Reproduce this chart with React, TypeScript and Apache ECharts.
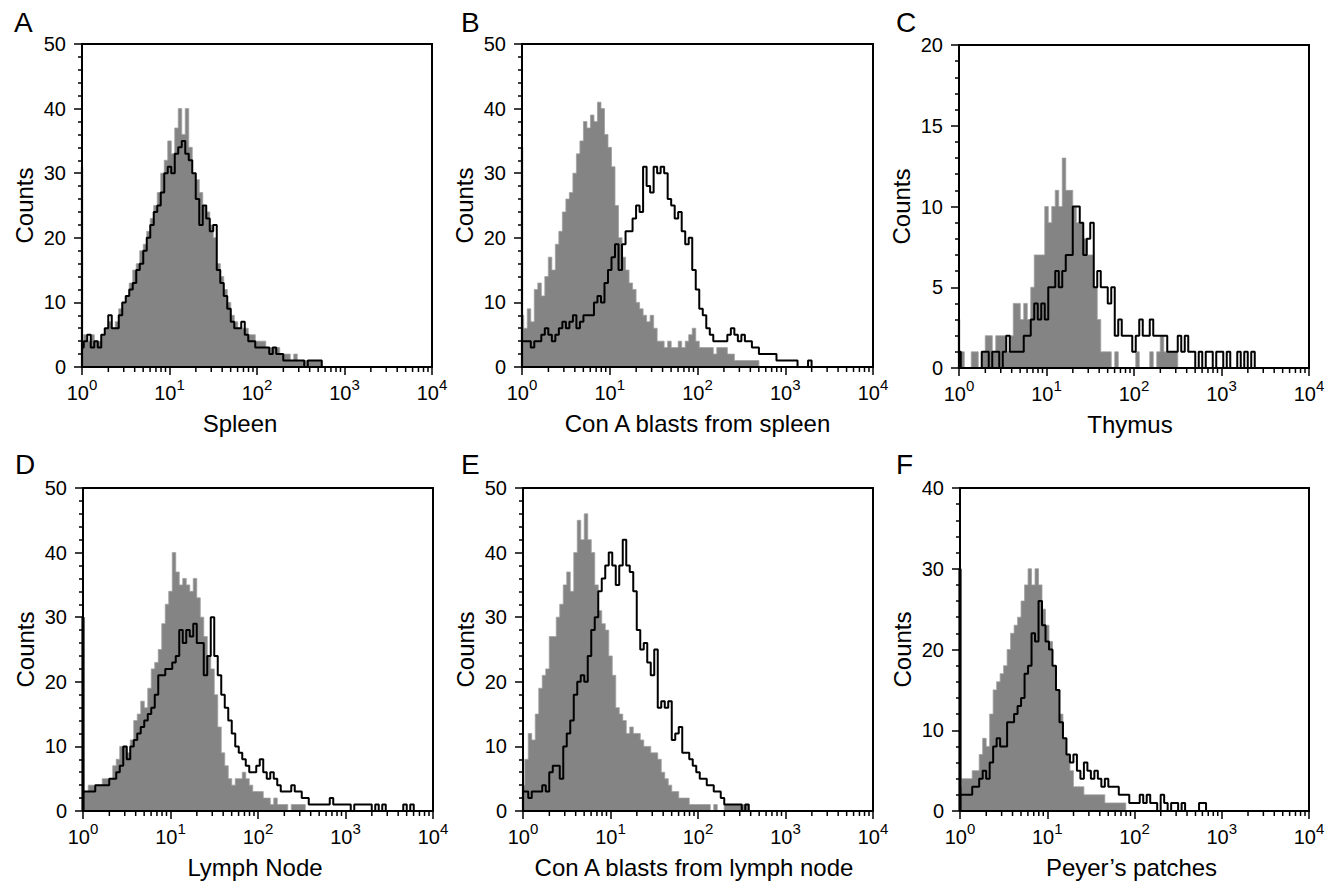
import React, { useEffect, useRef } from "react";
import * as echarts from "echarts";

// ---- labels / axes ----
const PANEL_LETTERS = ["A", "B", "C", "D", "E", "F"];
const X_TITLES = [
  "Spleen",
  "Con A blasts from spleen",
  "Thymus",
  "Lymph Node",
  "Con A blasts from lymph node",
  "Peyer\u2019s patches",
];
const Y_TITLE = "Counts";
const Y_MAX = [50, 50, 20, 50, 50, 40];
const Y_INTERVAL = [10, 10, 5, 10, 10, 10];
const X_MIN = 1;
const X_MAX = 10000;
const X_DECADES = [1, 10, 100, 1000];
const MINOR_MULTIPLES = [2, 3, 4, 5, 6, 7, 8, 9];
// width of one histogram channel, in decades of fluorescence
const CHANNEL_DECADES = 0.04;
// pile-up in the first channel of each panel
const SPIKES = [31, 34, 3, 30, 4, 30];

// ---- histogram counts, channel 0 = 10^0 ----
const GRAY_A = [3,5,4,5,4,4,5,6,7,6, 7,9,10,11,13,15,16,18,19,21, 23,25,27,30,32,35,33,37,40,36, 40,34,30,29,27,25,24,22,20,16, 14,12,10,8,7,6,6,6,5,5, 4,4,4,3,3,3,3,2,2,2, 1,2,1,1,1,1,1,1,1,0];
const BLACK_A = [3,4,5,3,4,3,5,6,8,6, 6,8,10,11,12,13,15,16,18,20, 22,24,25,27,30,31,30,33,34,35, 33,32,30,26,22,25,23,21,22,15, 13,11,9,7,6,6,7,5,4,4, 3,3,3,3,2,3,2,2,1,1, 1,1,1,1,0,1,1,1,1,0];

const GRAY_B = [8,6,9,7,12,13,11,14,17,15, 19,21,24,26,27,30,33,35,38,37, 39,38,41,40,36,34,31,25,20,17, 15,13,12,10,9,8,7,8,6,4, 4,3,4,3,3,4,3,4,5,6, 4,3,3,3,3,2,3,3,3,2, 2,1,1,1,1,1,1,1,0];
const BLACK_B = [4,4,4,3,4,4,5,6,5,4, 5,6,7,6,7,8,6,7,8,8, 8,10,11,10,13,15,17,19,15,19, 21,21,23,25,24,31,28,27,31,30, 31,30,26,25,23,24,21,19,20,15, 12,9,8,6,5,4,4,4,4,5, 6,5,4,5,4,4,3,3,2,2, 2,2,2,1,1,1,1,1,1,0, 0,0,1,0];

const GRAY_C = [0,1,0,0,1,1,0,1,2,2, 1,2,2,2,1,2,4,4,3,4, 3,5,7,7,7,10,9,10,11,10, 13,11,11,10,9,9,8,7,7,5, 3,1,1,1,0,1,0,0,0,0, 0,1,0,0,0,1,0,1,2,1, 1,1,1,0];
const BLACK_C = [1,0,0,0,0,0,0,1,1,0, 1,1,0,1,2,1,1,1,1,2, 2,3,4,3,4,3,5,5,6,5, 6,7,7,10,10,9,7,8,9,5, 6,5,5,4,5,2,3,2,2,2, 1,2,3,2,2,3,2,2,2,2, 1,1,1,2,1,2,1,1,0,1, 0,1,1,0,1,1,0,1,0,0, 1,0,1,0,1,0];

const GRAY_D = [3,3,4,4,4,4,5,5,5,7, 8,10,10,9,11,14,15,17,16,19, 22,23,25,29,32,34,40,37,35,36, 35,34,36,33,30,27,24,22,18,13, 9,7,5,4,5,5,6,5,4,3, 3,3,2,2,1,2,1,1,1,0, 1,1,1,1,0];
const BLACK_D = [3,3,3,3,4,4,4,4,5,5, 6,7,10,8,10,11,12,13,14,15, 16,18,21,21,22,22,23,24,28,26, 28,27,29,26,26,21,24,30,24,21, 18,16,14,12,10,9,8,7,6,6, 7,8,6,5,6,5,4,3,3,3, 4,3,3,2,2,1,1,1,1,1, 1,2,1,1,1,1,1,0,1,1, 1,1,1,0,1,0,1,0,0,0, 0,0,1,0,1,0];

const GRAY_E = [4,8,12,11,15,19,21,22,27,27, 30,32,35,37,34,40,45,42,46,42, 40,35,31,29,28,24,21,16,15,14, 12,13,12,12,11,10,10,9,9,8, 6,5,4,3,3,2,2,2,1,1, 1,1,1,1,0,1,0,0,1,1, 1,1,1,1,1,0];
const BLACK_E = [3,3,2,3,3,3,4,3,6,7, 7,5,10,12,14,18,20,21,20,24, 28,30,34,36,38,40,38,35,38,42, 38,37,34,28,25,26,23,21,25,16, 17,16,17,11,12,13,9,9,8,7, 6,5,5,4,4,3,3,2,1,1, 1,1,1,0,1,0];

const GRAY_F = [3,4,4,4,5,5,7,9,8,12, 15,16,17,18,20,22,23,24,26,28, 30,28,30,28,25,23,21,18,15,12, 9,7,5,3,3,3,2,2,2,2, 2,2,1,1,1,1,1,1,0];
const BLACK_F = [2,2,2,2,3,3,4,5,4,6, 8,9,8,8,11,11,12,13,14,17, 18,22,21,26,23,21,20,18,15,11, 9,7,6,7,5,4,6,5,4,5, 4,3,4,3,3,3,2,2,2,1, 1,1,2,1,2,1,1,0,2,1, 0,1,1,0,1,0,0,0,0,1, 1,0];

const GRAY_SERIES = [GRAY_A, GRAY_B, GRAY_C, GRAY_D, GRAY_E, GRAY_F];
const BLACK_SERIES = [BLACK_A, BLACK_B, BLACK_C, BLACK_D, BLACK_E, BLACK_F];

// ---- layout (pixels) ----
const GRIDS = [
  { left: 82, top: 44, width: 350, height: 323 },
  { left: 522, top: 44, width: 351, height: 323 },
  { left: 959, top: 45, width: 350, height: 323 },
  { left: 83, top: 488, width: 350, height: 323 },
  { left: 523, top: 488, width: 350, height: 323 },
  { left: 960, top: 488, width: 349, height: 323 },
];
const LETTER_POS = [
  [14, 8], [461, 8], [896, 8],
  [15, 450], [461, 450], [896, 450],
];
const TITLE_SHIFT = [-17, 0, -4, -3, -4, -3];
const SPIKE_WIDTH = [2.2, 2.2, 2.2, 3.2, 2.2, 3.2];

const FONT = "'Liberation Sans', Arial, Helvetica, sans-serif";

function toPoints(counts: number[]): [number, number][] {
  return counts.map((c, k) => [Math.pow(10, k * CHANNEL_DECADES), c]);
}

const MINOR_TICKS: number[] = [];
X_DECADES.forEach((d) => MINOR_MULTIPLES.forEach((m) => MINOR_TICKS.push(d * m)));

function buildOption() {
  const grid: any[] = [];
  const xAxis: any[] = [];
  const yAxis: any[] = [];
  const series: any[] = [];
  const graphic: any[] = [];

  for (let i = 0; i < 6; i++) {
    grid.push({
      ...GRIDS[i],
      show: true,
      borderColor: "#000",
      borderWidth: 2,
      backgroundColor: "transparent",
      containLabel: false,
    });
    const shift = TITLE_SHIFT[i];
    xAxis.push({
      type: "log",
      logBase: 10,
      gridIndex: i,
      min: X_MIN,
      max: X_MAX,
      z: 5,
      name: X_TITLES[i],
      nameLocation: "middle",
      nameGap: 44,
      nameTextStyle: {
        fontSize: 24,
        color: "#000",
        fontFamily: FONT,
        padding: shift < 0 ? [0, -2 * shift, 0, 0] : [0, 0, 0, 2 * shift],
      },
      axisLine: { show: true, lineStyle: { color: "#000", width: 2 } },
      axisTick: { show: true, length: 8, lineStyle: { color: "#000", width: 1.5 } },
      minorTick: { show: false },
      splitLine: { show: false },
      axisLabel: {
        margin: 10,
        color: "#000",
        showMinLabel: true,
        showMaxLabel: true,
        formatter: (v: number) => `{b|10}{s|${Math.round(Math.log10(v))}}`,
        rich: {
          b: { fontSize: 20, fontFamily: FONT, color: "#000", lineHeight: 26, verticalAlign: "bottom" },
          s: { fontSize: 15, fontFamily: FONT, color: "#000", lineHeight: 15, verticalAlign: "top" },
        },
      },
    });
    yAxis.push({
      type: "value",
      gridIndex: i,
      min: 0,
      max: Y_MAX[i],
      interval: Y_INTERVAL[i],
      z: 5,
      name: Y_TITLE,
      nameLocation: "middle",
      nameGap: 46,
      nameTextStyle: { fontSize: 24, color: "#000", fontFamily: FONT },
      axisLine: { show: true, lineStyle: { color: "#000", width: 2 } },
      axisTick: { show: true, length: 8, lineStyle: { color: "#000", width: 1.5 } },
      minorTick: { show: true, splitNumber: 5, length: 4, lineStyle: { color: "#000", width: 1.5 } },
      splitLine: { show: false },
      axisLabel: { margin: 16, color: "#000", fontSize: 20, fontFamily: FONT },
    });

    series.push({
      type: "line",
      xAxisIndex: i,
      yAxisIndex: i,
      step: "middle",
      symbol: "none",
      silent: true,
      data: toPoints(GRAY_SERIES[i]),
      lineStyle: { width: 0.8, color: "#a0a0a0" },
      itemStyle: { color: "#848484" },
      areaStyle: { color: "#848484", opacity: 1 },
      z: 2,
    });
    series.push({
      type: "line",
      xAxisIndex: i,
      yAxisIndex: i,
      step: "middle",
      symbol: "none",
      silent: true,
      data: toPoints(BLACK_SERIES[i]),
      lineStyle: { width: 2, color: "#000" },
      itemStyle: { color: "#000" },
      z: 3,
    });
    series.push({
      type: "line",
      xAxisIndex: i,
      yAxisIndex: i,
      symbol: "none",
      silent: true,
      clip: false,
      data: [
        [X_MIN, 0],
        [X_MIN, SPIKES[i]],
      ],
      lineStyle: { width: SPIKE_WIDTH[i], color: "#000" },
      itemStyle: { color: "#000" },
      z: 4,
    });
    series.push({
      type: "custom",
      xAxisIndex: i,
      yAxisIndex: i,
      silent: true,
      clip: false,
      z: 6,
      data: MINOR_TICKS.map((v) => [v, 0]),
      renderItem: (_p: any, api: any) => {
        const p = api.coord([api.value(0), 0]);
        return {
          type: "line",
          shape: { x1: p[0], y1: p[1], x2: p[0], y2: p[1] + 5 },
          style: { stroke: "#000", lineWidth: 1.5 },
        };
      },
    });

    graphic.push({
      type: "text",
      x: LETTER_POS[i][0],
      y: LETTER_POS[i][1],
      style: {
        text: PANEL_LETTERS[i],
        fontSize: 28,
        fontFamily: FONT,
        fill: "#000",
        verticalAlign: "top",
        align: "left",
      },
    });
  }

  return {
    animation: false,
    backgroundColor: "#fff",
    textStyle: { fontFamily: FONT },
    grid,
    xAxis,
    yAxis,
    series,
    graphic,
  };
}

export default function App() {
  const ref = useRef<HTMLDivElement>(null);
  useEffect(() => {
    if (!ref.current) return;
    const chart = echarts.init(ref.current, undefined, { renderer: "svg" });
    chart.setOption(buildOption() as any);
    return () => chart.dispose();
  }, []);
  return (
    <div
      ref={ref}
      style={{ position: "fixed", left: 0, top: 0, width: 1338, height: 883, background: "#fff" }}
    />
  );
}
